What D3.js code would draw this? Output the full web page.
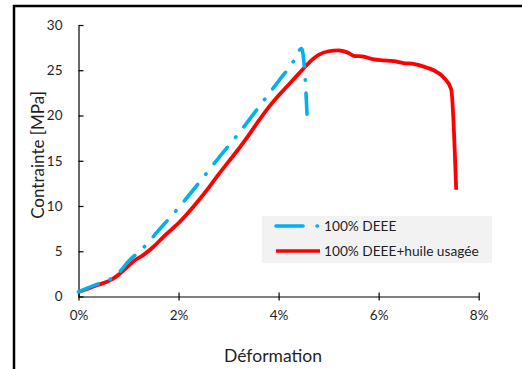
<!DOCTYPE html>
<html>
<head>
<meta charset="utf-8">
<script src="https://cdn.jsdelivr.net/npm/d3@7"></script>
<style>
body { margin: 0; background: #fff; }
svg { display: block; }
text { font-family: Lato, "Open Sans", sans-serif; fill: #1f1f1f; }
</style>
</head>
<body>
<svg class="chart"></svg>
<script>
var width = 522;
var height = 369;

// 100% DEEE
var deeeStrain = [0, 0.3, 0.5, 0.6, 0.8, 1.0, 1.3, 1.6, 2.0, 2.4, 2.8, 3.2, 3.6, 4.0, 4.3, 4.46, 4.52, 4.57];
var deeeStress = [0.5, 1.2, 1.6, 1.8, 2.6, 3.9, 5.4, 7.3, 9.8, 12.5, 15.3, 18.0, 20.9, 23.8, 26.0, 27.4, 25.0, 20.0];

// 100% DEEE+huile usagée
var huileStrain = [0, 0.2, 0.4, 0.6, 0.7, 0.8, 0.9, 1.0, 1.1, 1.3, 1.5, 1.7, 1.9, 2.0, 2.2, 2.4, 2.6, 2.8, 3.0, 3.2, 3.4, 3.6, 3.8, 4.0, 4.2, 4.4, 4.6, 4.8, 5.0, 5.2, 5.4, 5.5, 5.7, 5.9, 6.1, 6.3, 6.5, 6.7, 6.9, 7.1, 7.3, 7.45, 7.55];
var huileStress = [0.5, 0.9, 1.3, 1.7, 2.0, 2.4, 2.9, 3.4, 3.9, 4.6, 5.5, 6.6, 7.6, 8.1, 9.3, 10.6, 12.0, 13.5, 14.9, 16.3, 17.8, 19.4, 20.9, 22.2, 23.4, 24.6, 25.8, 26.7, 27.1, 27.2, 26.9, 26.6, 26.5, 26.2, 26.1, 26.0, 25.8, 25.7, 25.4, 25.0, 24.2, 22.9, 11.8];

var xTicks = [0, 2, 4, 6, 8];
var yTicks = [0, 5, 10, 15, 20, 25, 30];
var seriesNames = ["100% DEEE", "100% DEEE+huile usagée"];
var seriesColors = ["#00b0f0", "#ff0000"];

var x = d3.scaleLinear().domain([0, 8]).range([78.5, 478.7]);
var y = d3.scaleLinear().domain([0, 30]).range([296.5, 25]);

var svg = d3.select(".chart")
	.attr("width", width)
	.attr("height", height);

// frame of the pasted figure
svg.append("path")
	.attr("d", "M14," + height + "V6H" + width)
	.attr("fill", "none")
	.attr("stroke", "#000")
	.attr("stroke-width", 2.5);

var xAxis = d3.axisBottom(x).tickValues(xTicks).tickFormat(d => d + "%").tickSizeInner(4).tickSizeOuter(0).tickPadding(10);
var yAxis = d3.axisLeft(y).tickValues(yTicks).tickSizeInner(5).tickSizeOuter(0).tickPadding(11);

var gx = svg.append("g")
	.attr("transform", "translate(0," + y(0) + ")")
	.call(xAxis);
gx.selectAll(".tick line").attr("y1", -4);

var gy = svg.append("g")
	.attr("transform", "translate(" + x(0) + ",0)")
	.call(yAxis);
gy.selectAll(".tick line").attr("x2", 5);

svg.selectAll(".domain, .tick line").attr("stroke", "#000").attr("stroke-width", 1.2);
svg.selectAll(".tick text")
	.style("font-family", "Lato, sans-serif")
	.style("font-size", "13.5px")
	.attr("fill", "#1f1f1f");

svg.append("text")
	.attr("x", 273)
	.attr("y", 362)
	.attr("text-anchor", "middle")
	.style("font-size", "17.5px")
	.text("Déformation");

svg.append("text")
	.attr("transform", "translate(44,155) rotate(-90)")
	.attr("text-anchor", "middle")
	.style("font-size", "17px")
	.text("Contrainte [MPa]");

var line = d3.line()
	.x(d => x(d[0]))
	.y(d => y(d[1]))
	.curve(d3.curveMonotoneX);

svg.append("path")
	.datum(d3.zip(huileStrain, huileStress))
	.attr("fill", "none")
	.attr("stroke", seriesColors[1])
	.attr("stroke-width", 3.8)
	.attr("stroke-linejoin", "round")
	.attr("d", line);

svg.append("path")
	.datum(d3.zip(deeeStrain, deeeStress))
	.attr("fill", "none")
	.attr("stroke", seriesColors[0])
	.attr("stroke-width", 3.6)
	.attr("stroke-linecap", "round")
	.attr("stroke-dasharray", "21,13,0.5,13")
	.attr("d", line);

// legend
var legend = svg.append("g");
legend.append("rect")
	.attr("x", 262).attr("y", 216)
	.attr("width", 230).attr("height", 47)
	.attr("fill", "#f2f2f2");

var legendItems = legend.selectAll(".item")
	.data(seriesNames)
	.enter()
	.append("g")
	.attr("transform", (d, i) => "translate(0," + (226 + i * 25) + ")");

legendItems.append("line")
	.attr("x1", 276).attr("x2", (d, i) => i ? 320 : 318)
	.attr("stroke", (d, i) => seriesColors[i])
	.attr("stroke-width", 3.6)
	.attr("stroke-linecap", (d, i) => i ? "butt" : "round")
	.attr("stroke-dasharray", (d, i) => i ? null : "27,14,0.5,14");

legendItems.append("text")
	.attr("x", 324)
	.attr("dy", "0.35em")
	.style("font-size", "13.7px")
	.text(d => d);
</script>
</body>
</html>
